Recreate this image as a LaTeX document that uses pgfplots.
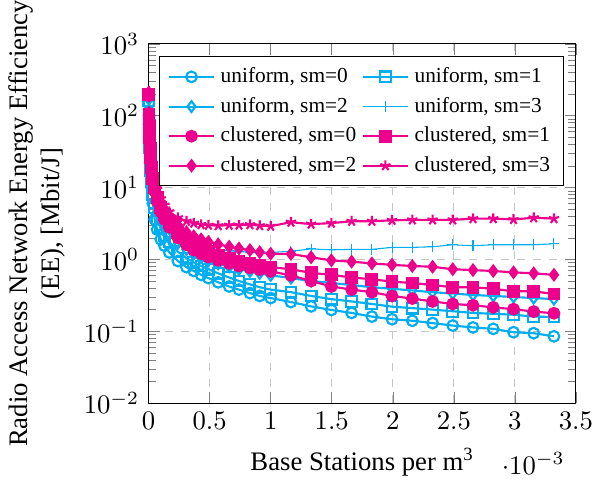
\documentclass[border=0pt]{standalone}
\usepackage{fontspec}
\setmainfont{Liberation Serif}
\usepackage{pgfplots}
\usepackage{pgfplotstable}
\pgfplotsset{compat=1.18}
\definecolor{ublue}{RGB}{0,174,239}
\definecolor{cpink}{RGB}{236,0,140}
% x in units of 1e-3 base stations per m^3
\pgfplotstableread{
x      u0     u1     u2     u3    c0     c1    c2    c3
0.002  150    160    170    180   190    200   210   220
0.004  75     80     88     95    100    105   110   115
0.006  50     54     60     66    68     72    76    80
0.009  33     36     40     45    46     49    53    56
0.013  22     25     28     32    33     35    38    41
0.018  15     17     20     24    24     26    29    31
0.025  10     12     14     17    17.5   19    21    23
0.035  6.0    8      9.5    12.5  12.5   13.5  15.5  17
0.05   3.6    5.2    6.4    9     9      10    11.5  12.5
0.07   2.6    3.7    4.6    6.5   6.5    7.3   8.5   9.5
0.1    1.9    2.7    3.4    4.8   4.6    5.3   6.3   7
0.13   1.55   2.15   2.75   3.8   3.6    4.2   5     5.7
0.17   1.25   1.75   2.25   3.0   2.8    3.3   4     4.6
0.24   0.95   1.28   1.68   2.3   2.0    2.4   3     3.8
0.31   0.78   1.04   1.37   1.9   1.6    1.9   2.4   3.4
0.37   0.69   0.91   1.19   1.7   1.35   1.62  2.1   3.2
0.43   0.61   0.81   1.06   1.55  1.2    1.43  1.9   3.05
0.49   0.55   0.73   0.96   1.45  1.08   1.29  1.75  3.0
0.57   0.48   0.64   0.87   1.38  0.97   1.15  1.62  2.95
0.66   0.42   0.56   0.79   1.32  0.88   1.03  1.5   3.0
0.74   0.38   0.5    0.73   1.28  0.81   0.95  1.42  3.0
0.83   0.34   0.45   0.68   1.26  0.76   0.88  1.35  3.05
0.91   0.31   0.41   0.64   1.25  0.72   0.83  1.26  2.95
1.0    0.29   0.38   0.6    1.25  0.68   0.78  1.2   2.9
1.166  0.255  0.35   0.55   1.3   0.6    0.73  1.19  3.3
1.331  0.222  0.31   0.5    1.4   0.5    0.65  1.07  3.1
1.497  0.198  0.28   0.47   1.36  0.42   0.61  0.97  3.2
1.663  0.18   0.26   0.44   1.38  0.38   0.56  0.93  3.4
1.829  0.16   0.24   0.41   1.38  0.35   0.53  0.88  3.4
1.994  0.147  0.22   0.39   1.47  0.31   0.49  0.84  3.5
2.16   0.14   0.21   0.37   1.47  0.285  0.47  0.81  3.55
2.326  0.13   0.2    0.35   1.5   0.26   0.44  0.79  3.55
2.491  0.12   0.19   0.335  1.6   0.24   0.41  0.73  3.55
2.657  0.113  0.18   0.32   1.55  0.23   0.41  0.71  3.7
2.823  0.108  0.175  0.31   1.6   0.215  0.39  0.69  3.7
2.989  0.097  0.17   0.3    1.6   0.203  0.36  0.66  3.6
3.154  0.094  0.16   0.29   1.6   0.188  0.36  0.64  3.8
3.32   0.085  0.158  0.28   1.65  0.178  0.33  0.61  3.7
}\datatab
\begin{document}
\begin{tikzpicture}
\begin{axis}[
  scale only axis,
  width=160pt, height=134.5pt,
  xmin=0, xmax=0.0035,
  ymode=log, ymin=1e-2, ymax=1e3,
  xtick={0,0.0005,0.001,0.0015,0.002,0.0025,0.003,0.0035},
  ytick={1e-2,1e-1,1,1e1,1e2,1e3},
  scaled x ticks=base 10:3,
  xticklabel style={inner xsep=0pt},
  grid=major,
  major grid style={dashed, gray!45},
  xlabel={Base Stations per m\textsuperscript{3}},
  ylabel={Radio Access Network Energy Efficiency\\(EE), [Mbit/J]},
  ylabel style={align=center, inner xsep=0pt},
  legend columns=2,
  legend cell align=left,
  legend style={at={(0.972,0.966)}, anchor=north east, font=\footnotesize, draw=black},
  every axis plot/.append style={line width=0.8pt},
]
\addplot[ublue, mark=o] table[x expr=\thisrow{x}*1e-3, y=u0] {\datatab};
\addlegendentry{uniform, sm=0}
\addplot[ublue, mark=square] table[x expr=\thisrow{x}*1e-3, y=u1] {\datatab};
\addlegendentry{uniform, sm=1}
\addplot[ublue, mark=diamond] table[x expr=\thisrow{x}*1e-3, y=u2] {\datatab};
\addlegendentry{uniform, sm=2}
\addplot[ublue, mark=+, line width=0.4pt] table[x expr=\thisrow{x}*1e-3, y=u3] {\datatab};
\addlegendentry{uniform, sm=3}
\addplot[cpink, mark=*] table[x expr=\thisrow{x}*1e-3, y=c0] {\datatab};
\addlegendentry{clustered, sm=0}
\addplot[cpink, mark=square*] table[x expr=\thisrow{x}*1e-3, y=c1] {\datatab};
\addlegendentry{clustered, sm=1}
\addplot[cpink, mark=diamond*] table[x expr=\thisrow{x}*1e-3, y=c2] {\datatab};
\addlegendentry{clustered, sm=2}
\addplot[cpink, mark=star] table[x expr=\thisrow{x}*1e-3, y=c3] {\datatab};
\addlegendentry{clustered, sm=3}
\end{axis}
\end{tikzpicture}
\end{document}
